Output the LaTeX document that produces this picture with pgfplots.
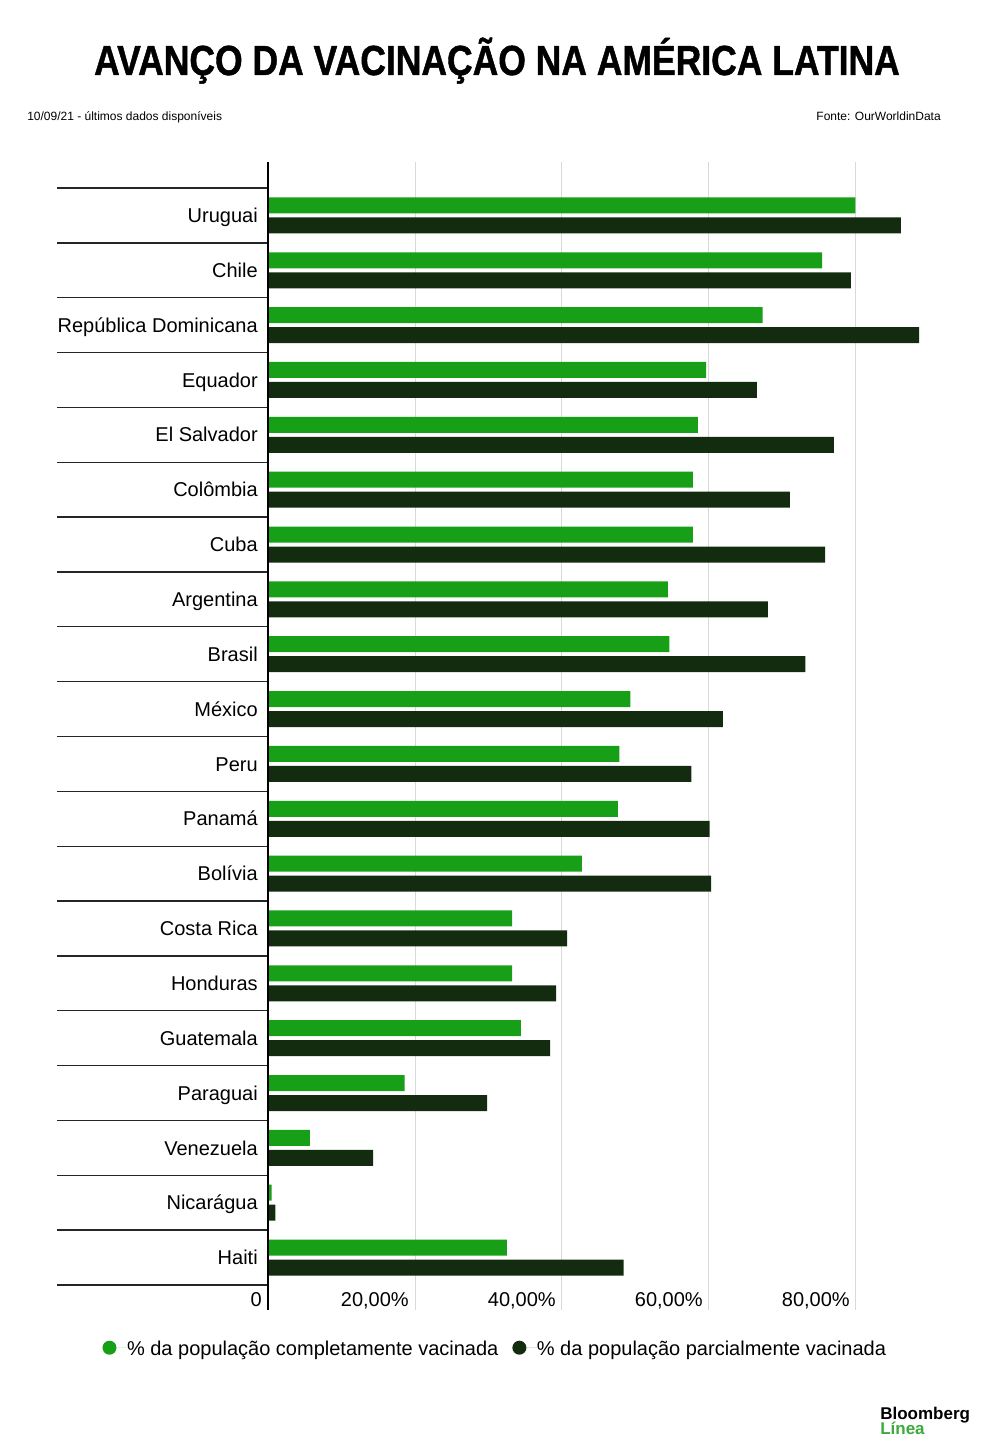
\documentclass[border=0pt]{standalone}
\usepackage{fontspec}
\setmainfont{Liberation Sans}
\newfontfamily\titlefont[FakeBold=1.2]{Liberation Sans Bold}
\usepackage{graphicx}
\usepackage{pgfplots}
\usepackage{pgfplotstable}
\pgfplotsset{compat=1.18}
\definecolor{gcol}{HTML}{17A017}
\definecolor{dcol}{HTML}{132C0F}
\definecolor{lcol}{HTML}{3DAA3D}

\pgfplotstableread{
y full part
20 79.9 86.1
19 75.4 79.3
18 67.3 88.6
17 59.6 66.5
16 58.5 77.0
15 57.8 71.0
14 57.8 75.8
13 54.4 68.0
12 54.6 73.1
11 49.3 61.9
10 47.8 57.6
9 47.6 60.1
8 42.7 60.3
7 33.2 40.7
6 33.2 39.2
5 34.4 38.4
4 18.6 29.8
3 5.7 14.3
2 0.5 1.0
1 32.5 48.4
}\datatable

\begin{document}
\begin{tikzpicture}
\path[use as bounding box] (0,0) rectangle (750pt,1086.75pt);
\node[anchor=base, inner sep=0pt] at (372.75pt,1030.5pt) {\fontsize{31.5pt}{31.5pt}\selectfont\titlefont\scalebox{0.845}[1]{AVANÇO DA VACINAÇÃO NA AMÉRICA LATINA}};
\node[anchor=base west, inner sep=0pt] at (20.25pt,996pt) {\fontsize{9pt}{9pt}\selectfont 10/09/21 - últimos dados disponíveis};
\node[anchor=base east, inner sep=0pt] at (705.75pt,996pt) {\fontsize{9pt}{9pt}\selectfont Fonte: OurWorldinData};
\node[anchor=base west, inner sep=0pt] at (660pt,21.75pt) {\fontsize{12.75pt}{12.75pt}\selectfont\bfseries Bloomberg};
\node[anchor=base west, inner sep=0pt, text=lcol] at (660pt,10.5pt) {\fontsize{12.75pt}{12.75pt}\selectfont\bfseries Línea};
\begin{axis}[
  at={(201pt,104.25pt)}, anchor=south west,
  width=496.125pt, height=861pt, scale only axis,
  xmin=0, xmax=90, ymin=0.044, ymax=20.974,
  xbar, bar width=12pt,
  axis line style={draw=none},
  xtick={0,20,40,60,80},
  xticklabels={0,{20,00\%},{40,00\%},{60,00\%},{80,00\%}},
  ytick={1,2,3,4,5,6,7,8,9,10,11,12,13,14,15,16,17,18,19,20},
  yticklabels={Haiti,Nicarágua,Venezuela,Paraguai,Guatemala,Honduras,Costa Rica,Bolívia,Panamá,Peru,México,Brasil,Argentina,Cuba,Colômbia,El Salvador,Equador,República Dominicana,Chile,Uruguai},
  major tick length=0pt,
  tick style={draw=none},
  tick label style={font=\fontsize{15pt}{15pt}\selectfont},
  xticklabel style={anchor=base east, inner sep=0pt, xshift=-4.5pt, yshift=2.25pt},
  yticklabel style={anchor=east, inner sep=0pt, xshift=-7.5pt, text height=10.74pt, text depth=0pt},
  xmajorgrids, major grid style={draw=black!15, line width=0.75pt},
  clip=false,
  legend columns=2,
  legend style={at={(-0.2502,-0.0339)}, anchor=west, draw=none, fill=none, inner sep=0pt, outer sep=0pt,
    column sep=0pt, /tikz/every even column/.append style={column sep=10.5pt},
    font=\fontsize{15pt}{15pt}\selectfont, nodes={inner sep=0pt}},
]
\addplot[fill=gcol, draw=none, bar shift=7.5pt,
  legend image code/.code={\fill[gcol] (5.25pt,0.9pt) circle (5.25pt); \path (0pt,0.9pt) -- (18.4pt,0.9pt);}]
  table[x=full, y=y] {\datatable};
\addlegendentry{\% da população completamente vacinada}
\addplot[fill=dcol, draw=none, bar shift=-7.5pt,
  legend image code/.code={\fill[dcol] (5.25pt,0.9pt) circle (5.25pt); \path (0pt,0.9pt) -- (18.4pt,0.9pt);}]
  table[x=part, y=y] {\datatable};
\addlegendentry{\% da população parcialmente vacinada}
\pgfplotsinvokeforeach{0.5,1.5,2.5,3.5,4.5,5.5,6.5,7.5,8.5,9.5,10.5,11.5,12.5,13.5,14.5,15.5,16.5,17.5,18.5,19.5,20.5}{
  \draw[black!85, line width=1pt] (axis cs:0,#1) -- ++(-158.25pt,0pt);
}
\draw[black, line width=1.2pt] (rel axis cs:0,0) -- (rel axis cs:0,1);
\end{axis}
\end{tikzpicture}
\end{document}
